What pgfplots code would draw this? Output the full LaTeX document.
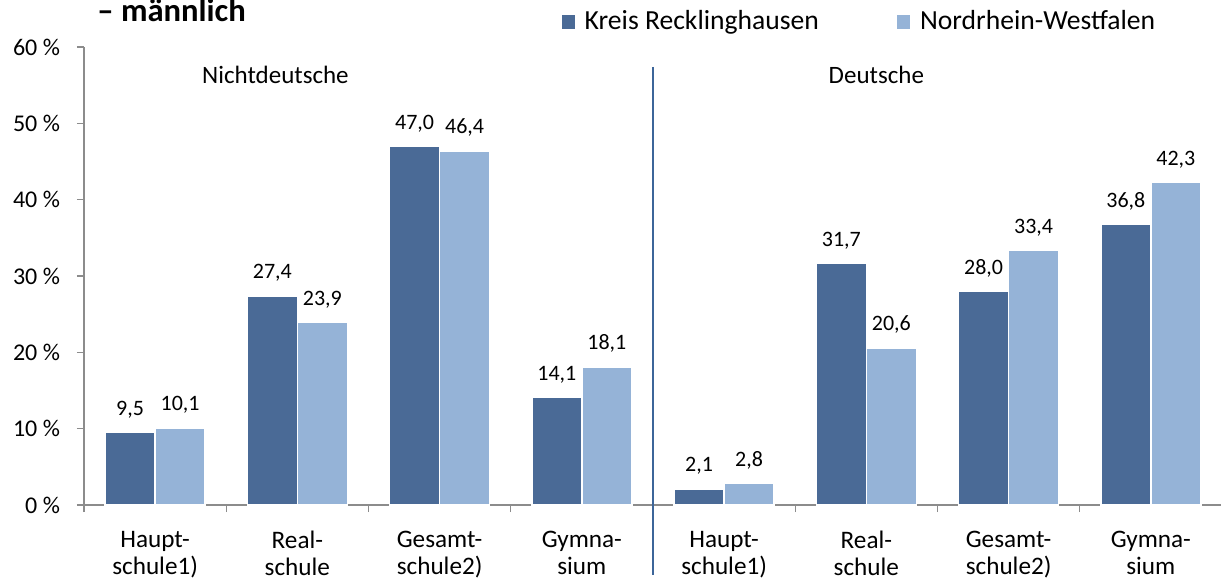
\documentclass[border=0pt]{standalone}
\usepackage{pgfplots}
\pgfplotsset{compat=1.18}
\usepackage{fontspec}
\setmainfont{Carlito}
\definecolor{kr}{HTML}{4A6A96}
\definecolor{nrw}{HTML}{95B3D7}
\definecolor{axc}{HTML}{8C8C8C}
\definecolor{divc}{HTML}{3C6599}
\begin{document}
\begin{tikzpicture}
\useasboundingbox (0,0) rectangle (610.5pt,289.5pt);
\node[anchor=base west, font=\fontsize{16.3}{19}\bfseries\selectfont, inner sep=0pt] at (48.5pt,278.5pt) {– männlich};
\begin{axis}[
  at={(42pt,37pt)}, anchor=south west,
  width=569pt, height=229pt, scale only axis,
  xmin=-0.5, xmax=7.5, ymin=0, ymax=60,
  ybar=0pt, bar width=25pt,
  clip=false,
  axis x line*=bottom, axis y line*=left,
  axis line style={-, draw=axc, line width=0.7pt},
  tick align=outside,
  ytick={0,10,...,60},
  yticklabels={0 \%,10 \%,20 \%,30 \%,40 \%,50 \%,60 \%},
  yticklabel style={font=\fontsize{12}{14}\selectfont, xshift=-5pt},
  ytick style={draw=axc, line width=0.7pt},
  major tick length=3.5pt,
  xtick={-0.5,0.5,...,7.5},
  xticklabels={},
  xtick style={draw=axc, line width=0.7pt},
  extra x ticks={0,1,2,3,4,5,6,7},
  extra x tick labels={{Haupt-\\schule1)},{Real-\\schule},{Gesamt-\\schule2)},{Gymna-\\sium},{Haupt-\\schule1)},{Real-\\schule},{Gesamt-\\schule2)},{Gymna-\\sium}},
  extra x tick style={major tick length=0pt, xticklabel style={font=\fontsize{12.6}{13.4}\selectfont, align=center, yshift=-9.5pt}},
  /pgf/number format/assume math mode=true,
  nodes near coords={\pgfmathprintnumber[fixed,fixed zerofill,precision=1,use comma,assume math mode=true]{\pgfplotspointmeta}},
  every node near coord/.append style={font=\fontsize{11}{13}\selectfont, text=black, anchor=base, inner sep=0pt, yshift=8.5pt},
  legend style={at={(0.414,1.055)}, anchor=west, draw=none, fill=none, legend columns=2, font=\fontsize{13.8}{16}\selectfont, /tikz/every odd column/.append style={column sep=3pt}, /tikz/every even column/.append style={column sep=37pt}},
  legend image code/.code={\fill[#1, draw=none] (0pt,-3.4pt) rectangle (6.6pt,3.4pt);},
]
\addplot[fill=kr, draw=white, line width=0.8pt] coordinates {(0,9.5) (1,27.4) (2,47.0) (3,14.1) (4,2.1) (5,31.7) (6,28.0) (7,36.8)};
\addplot[fill=nrw, draw=white, line width=0.8pt] coordinates {(0,10.1) (1,23.9) (2,46.4) (3,18.1) (4,2.8) (5,20.6) (6,33.4) (7,42.3)};
\legend{Kreis Recklinghausen, Nordrhein-Westfalen}
\draw[divc, line width=1.2pt] (axis cs:3.5,57.4) -- (axis cs:3.5,-9.2);
\node[font=\fontsize{12.5}{15}\selectfont] at (axis cs:0.846,56.3) {Nichtdeutsche};
\node[font=\fontsize{12.5}{15}\selectfont] at (axis cs:5.07,56.3) {Deutsche};
\end{axis}
\end{tikzpicture}
\end{document}
